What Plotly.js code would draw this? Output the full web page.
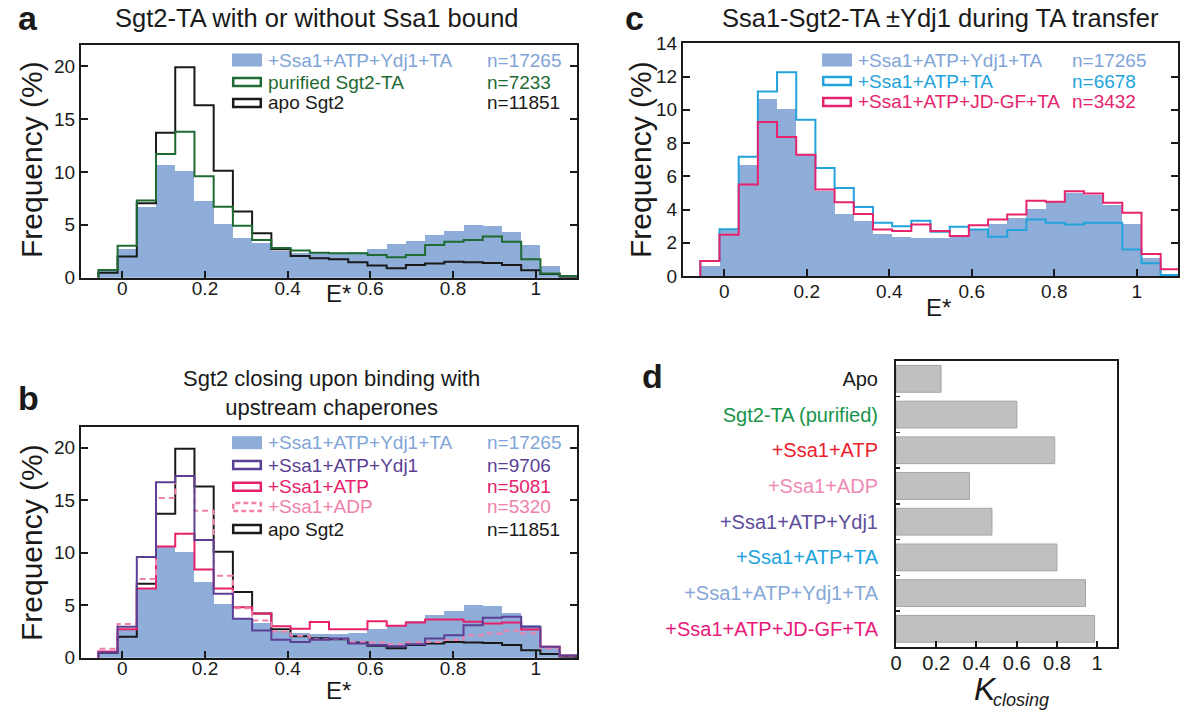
<!DOCTYPE html>
<html><head><meta charset="utf-8">
<script src="https://cdn.plot.ly/plotly-3.0.1.min.js"></script>
<style>html,body{margin:0;padding:0;background:#fff}#chart{width:1183px;height:713px}</style>
</head><body><div id="chart"></div>
<script>
// ---------- data ----------
const binEdges = [-0.058, -0.0115, 0.035, 0.0815, 0.128, 0.1745, 0.221, 0.2675, 0.314, 0.3605, 0.407, 0.4535, 0.5, 0.5465, 0.593, 0.6395, 0.686, 0.7325, 0.779, 0.8255, 0.872, 0.9185, 0.965, 1.0115, 1.058, 1.1045];
const xTickVals = [0, 0.2, 0.4, 0.6, 0.8, 1];
const xTickText = ['0', '0.2', '0.4', '0.6', '0.8', '1'];
const yTickVals22 = [0, 5, 10, 15, 20];
const yTickText22 = ['0', '5', '10', '15', '20'];
const yTickVals14 = [0, 2, 4, 6, 8, 10, 12, 14];
const yTickText14 = ['0', '2', '4', '6', '8', '10', '12', '14'];

// +Ssa1+ATP+Ydj1+TA (n=17265) filled histogram
const ssa1ATPYdj1TA = [0.6, 2.75, 6.65, 10.65, 10.05, 7.25, 5.1, 3.75, 3.3, 2.5, 2.35, 2.3, 2.3, 2.4, 2.75, 3.15, 3.5, 4.05, 4.45, 5.0, 4.9, 4.3, 3.1, 1.1, 0.1];
// apo Sgt2 (n=11851)
const apoSgt2 = [0.47, 2.0, 7.05, 13.7, 19.9, 16.3, 10.1, 6.25, 4.2, 2.7, 2.05, 1.85, 1.75, 1.45, 1.15, 0.9, 1.2, 1.35, 1.5, 1.45, 1.4, 1.2, 0.7, 0.35, 0.1];
// purified Sgt2-TA (n=7233)
const purifiedSgt2TA = [0.73, 3.03, 7.3, 11.7, 13.8, 9.6, 6.7, 4.9, 3.57, 2.8, 2.56, 2.37, 2.3, 2.3, 2.15, 1.93, 2.15, 3.1, 3.4, 3.57, 3.9, 3.4, 1.74, 0.4, 0.15];
// +Ssa1+ATP+Ydj1 (n=9706)
const ssa1ATPYdj1 = [0.5, 2.95, 9.6, 16.7, 17.3, 11.2, 6.1, 3.7, 2.6, 1.7, 1.5, 1.7, 1.84, 1.36, 1.2, 1.1, 1.27, 1.84, 2.15, 3.1, 3.8, 3.9, 2.94, 1.04, 0.2];
// +Ssa1+ATP (n=5081)
const ssa1ATP = [0.6, 2.7, 6.6, 10.6, 11.8, 8.4, 6.6, 4.8, 4.2, 3.0, 2.76, 3.4, 2.72, 2.72, 3.48, 3.04, 3.35, 3.64, 3.64, 3.42, 3.26, 3.35, 2.69, 1.04, 0.2];
// +Ssa1+ADP (n=5320)
const ssa1ADP = [0.85, 3.2, 7.5, 15.2, 17.3, 14.0, 7.8, 4.7, 3.55, 2.5, 2.1, 1.75, 1.8, 1.5, 1.45, 1.27, 1.45, 1.5, 1.68, 2.15, 2.3, 2.6, 2.3, 0.9, 0.2];
// +Ssa1+ATP+TA (n=6678)
const ssa1ATPTA = [0.9, 2.82, 7.18, 11.1, 12.26, 9.4, 6.5, 5.3, 4.15, 3.2, 3.0, 3.32, 2.66, 2.96, 2.8, 2.36, 2.76, 3.4, 3.2, 3.1, 3.2, 3.2, 1.6, 0.76, 0.06];
// +Ssa1+ATP+JD-GF+TA (n=3432)
const ssa1ATPJDGFTA = [0.9, 2.48, 5.5, 9.27, 8.37, 7.3, 5.2, 4.43, 3.73, 2.8, 2.7, 3.1, 2.7, 2.4, 3.06, 3.4, 3.7, 4.52, 4.46, 5.1, 4.96, 4.4, 3.8, 1.32, 0.4];

// panel d
const kCategories = ['Apo', 'Sgt2-TA (purified)', '+Ssa1+ATP', '+Ssa1+ADP', '+Ssa1+ATP+Ydj1', '+Ssa1+ATP+TA', '+Ssa1+ATP+Ydj1+TA', '+Ssa1+ATP+JD-GF+TA'];
const kClosing = [0.224, 0.601, 0.789, 0.365, 0.477, 0.80, 0.942, 0.987];
const kLabelColors = ['#1a1a1a', '#17944a', '#ec1c2d', '#f08ab4', '#5e4c9c', '#1da2dc', '#86a8d8', '#e8197a'];
const kTickVals = [0, 0.2, 0.4, 0.6, 0.8, 1];
const kTickText = ['0', '0.2', '0.4', '0.6', '0.8', '1'];

// legends
const legendA = {labels: ['+Ssa1+ATP+Ydj1+TA', 'purified Sgt2-TA', 'apo Sgt2'], counts: ['n=17265', 'n=7233', 'n=11851']};
const legendB = {labels: ['+Ssa1+ATP+Ydj1+TA', '+Ssa1+ATP+Ydj1', '+Ssa1+ATP', '+Ssa1+ADP', 'apo Sgt2'], counts: ['n=17265', 'n=9706', 'n=5081', 'n=5320', 'n=11851']};
const legendC = {labels: ['+Ssa1+ATP+Ydj1+TA', '+Ssa1+ATP+TA', '+Ssa1+ATP+JD-GF+TA'], counts: ['n=17265', 'n=6678', 'n=3432']};

// ---------- style ----------
const W = 1183, H = 713;
const px = x => x / W, py = y => 1 - y / H;
const FONT = 'Arial, "Liberation Sans", Helvetica, sans-serif';
const INK = '#1a1a1a';
const C = {
  fill: '#8eadd9', fillText: '#7fa5d8', green: '#1f6b33', purple: '#5b3f95',
  red: '#e8206b', pink: '#f081ac', cyan: '#23a3dc', redC: '#e6236d'
};

const traces = [];
function fillTrace(vals, xa, ya) {
  const widths = binEdges.slice(1).map((e, i) => e - binEdges[i]);
  return {type: 'bar', x: binEdges.slice(0, -1), y: vals, width: widths, offset: 0,
    marker: {color: C.fill, line: {width: 0}}, xaxis: xa, yaxis: ya, showlegend: false, hoverinfo: 'skip'};
}
function stepTrace(vals, color, xa, ya, dash) {
  const xs = [binEdges[0]].concat(binEdges);
  const ys = [0].concat(vals, [vals[vals.length - 1]]);
  return {type: 'scatter', mode: 'lines', x: xs, y: ys, line: {shape: 'hv', color: color, width: 2, dash: dash || 'solid'},
    xaxis: xa, yaxis: ya, showlegend: false, hoverinfo: 'skip'};
}
// panel a
traces.push(fillTrace(ssa1ATPYdj1TA, 'x', 'y'));
traces.push(stepTrace(apoSgt2, INK, 'x', 'y'));
traces.push(stepTrace(purifiedSgt2TA, C.green, 'x', 'y'));
// panel b
traces.push(fillTrace(ssa1ATPYdj1TA, 'x2', 'y2'));
traces.push(stepTrace(apoSgt2, INK, 'x2', 'y2'));
traces.push(stepTrace(ssa1ATP, C.red, 'x2', 'y2'));
traces.push(stepTrace(ssa1ADP, C.pink, 'x2', 'y2', '6px,4px'));
traces.push(stepTrace(ssa1ATPYdj1, C.purple, 'x2', 'y2'));
// panel c
traces.push(fillTrace(ssa1ATPYdj1TA, 'x3', 'y3'));
traces.push(stepTrace(ssa1ATPTA, C.cyan, 'x3', 'y3'));
traces.push(stepTrace(ssa1ATPJDGFTA, C.redC, 'x3', 'y3'));
// panel d
traces.push({type: 'bar', orientation: 'h', x: kClosing, y: kCategories, width: 0.75,
  marker: {color: '#c0c0c0', line: {color: '#a4a4a4', width: 1}}, xaxis: 'x4', yaxis: 'y4', showlegend: false, hoverinfo: 'skip'});

const axBase = {showline: true, linecolor: INK, linewidth: 2, ticks: 'inside', ticklen: 7, tickwidth: 2, tickcolor: INK,
  showgrid: false, zeroline: false, tickfont: {size: 19, color: INK, family: FONT}, fixedrange: true};
function dom(a, b, isY) { return isY ? [py(b), py(a)] : [px(a), px(b)]; }

const layout = {
  width: W, height: H, margin: {l: 0, r: 0, t: 0, b: 0}, paper_bgcolor: '#fff', plot_bgcolor: '#fff',
  font: {family: FONT, color: INK}, showlegend: false, bargap: 0, barmode: 'overlay',
  xaxis: Object.assign({}, axBase, {domain: dom(81, 577), anchor: 'y', range: [-0.1, 1.1], tickvals: xTickVals, ticktext: xTickText, mirror: true, ticklabelstandoff: -8}),
  yaxis: Object.assign({}, axBase, {domain: dom(45, 277.7, true), anchor: 'x', range: [0, 22], tickvals: yTickVals22, ticktext: yTickText22, mirror: 'ticks'}),
  xaxis2: Object.assign({}, axBase, {domain: dom(81, 577), anchor: 'y2', range: [-0.1, 1.1], tickvals: xTickVals, ticktext: xTickText, mirror: true, ticklabelstandoff: -8}),
  yaxis2: Object.assign({}, axBase, {domain: dom(426.7, 657.7, true), anchor: 'x2', range: [0, 22], tickvals: yTickVals22, ticktext: yTickText22, mirror: 'ticks'}),
  xaxis3: Object.assign({}, axBase, {domain: dom(683, 1178), anchor: 'y3', range: [-0.1, 1.1], tickvals: xTickVals, ticktext: xTickText, mirror: true, ticklabelstandoff: -3}),
  yaxis3: Object.assign({}, axBase, {domain: dom(43.3, 276, true), anchor: 'x3', range: [0, 14], tickvals: yTickVals14, ticktext: yTickText14, mirror: 'ticks'}),
  xaxis4: Object.assign({}, axBase, {domain: dom(896, 1117.3), anchor: 'y4', range: [0, 1.1], tickvals: kTickVals, ticktext: kTickText, mirror: true, ticklen: 6, ticklabelstandoff: -3, tickfont: {size: 20, color: INK, family: FONT}}),
  yaxis4: Object.assign({}, axBase, {domain: dom(361, 646.7, true), anchor: 'x4', type: 'category', autorange: 'reversed',
    tickson: 'boundaries', ticklen: 4, tickwidth: 1.5, mirror: true, ticklabelstandoff: 12,
    tickvals: kCategories, ticktext: kCategories.map((c, i) => '<span style="color:' + kLabelColors[i] + '">' + c + '</span>'),
    tickfont: {size: 20, family: FONT}}),
  annotations: [], shapes: []
};

const ann = layout.annotations, shp = layout.shapes;
function text(t, x, y, size, color, extra) {
  ann.push(Object.assign({text: t, x: px(x), y: py(y), xref: 'paper', yref: 'paper', showarrow: false,
    xanchor: 'center', yanchor: 'middle', font: {size: size, color: color || INK, family: FONT}}, extra || {}));
}
// panel letters
text('<b>a</b>', 28, 18, 34);
text('<b>b</b>', 28, 398, 34);
text('<b>c</b>', 634, 18, 34);
text('<b>d</b>', 652, 376, 34);
// titles
text('Sgt2-TA with or without Ssa1 bound', 317, 18, 25.5);
text('Ssa1-Sgt2-TA ±Ydj1 during TA transfer', 940, 18, 25.5);
text('Sgt2 closing upon binding with<br>upstream chaperones', 331, 393, 22);
// axis titles
text('Frequency (%)', 31, 160, 30, INK, {textangle: -90});
text('Frequency (%)', 31, 543, 30, INK, {textangle: -90});
text('Frequency (%)', 640, 160, 30, INK, {textangle: -90});
text('E*', 338, 294, 24);
text('E*', 338, 690, 24);
text('E*', 938, 307, 24);
text('<i>K</i>', 985, 689, 32, INK, {borderpad: 0});
text('<i>closing</i>', 1021, 700, 18, INK, {borderpad: 0});

function legendRow(xSw, xText, xN, y, label, n, color, sw) {
  if (sw.fill) {
    shp.push({type: 'rect', xref: 'paper', yref: 'paper', x0: px(xSw), x1: px(xSw + 30), y0: py(y + 6.5), y1: py(y - 6.5),
      fillcolor: sw.fill, line: {width: 0}, layer: 'above'});
  } else {
    shp.push({type: 'rect', xref: 'paper', yref: 'paper', x0: px(xSw + 1.2), x1: px(xSw + 28.8), y0: py(y + 4), y1: py(y - 4),
      fillcolor: 'rgba(255,255,255,0)', line: {color: sw.line, width: 2.5, dash: sw.dash || 'solid'}, layer: 'above'});
  }
  text(label, xText, y, 19, color, {xanchor: 'left'});
  text(n, xN, y, 19, color, {xanchor: 'left'});
}
// legend a
const swA = [{fill: C.fill}, {line: C.green}, {line: INK}];
const colA = [C.fillText, C.green, INK];
const rowsA = [60, 82, 103];
legendA.labels.forEach((l, i) => legendRow(232, 266, 485, rowsA[i], l, legendA.counts[i], colA[i], swA[i]));
// legend b
const swB = [{fill: C.fill}, {line: C.purple}, {line: C.red}, {line: C.pink, dash: '5px,3px'}, {line: INK}];
const colB = [C.fillText, C.purple, C.red, C.pink, INK];
const rowsB = [442.7, 465, 486.7, 507, 529];
legendB.labels.forEach((l, i) => legendRow(232, 266, 485, rowsB[i], l, legendB.counts[i], colB[i], swB[i]));
// legend c
const swC = [{fill: C.fill}, {line: C.cyan}, {line: C.redC}];
const colC = [C.fillText, C.cyan, C.redC];
const rowsC = [60, 81, 102];
legendC.labels.forEach((l, i) => legendRow(822, 856, 1070, rowsC[i], l, legendC.counts[i], colC[i], swC[i]));

Plotly.newPlot('chart', traces, layout, {staticPlot: true, displayModeBar: false});
</script>
</body></html>
